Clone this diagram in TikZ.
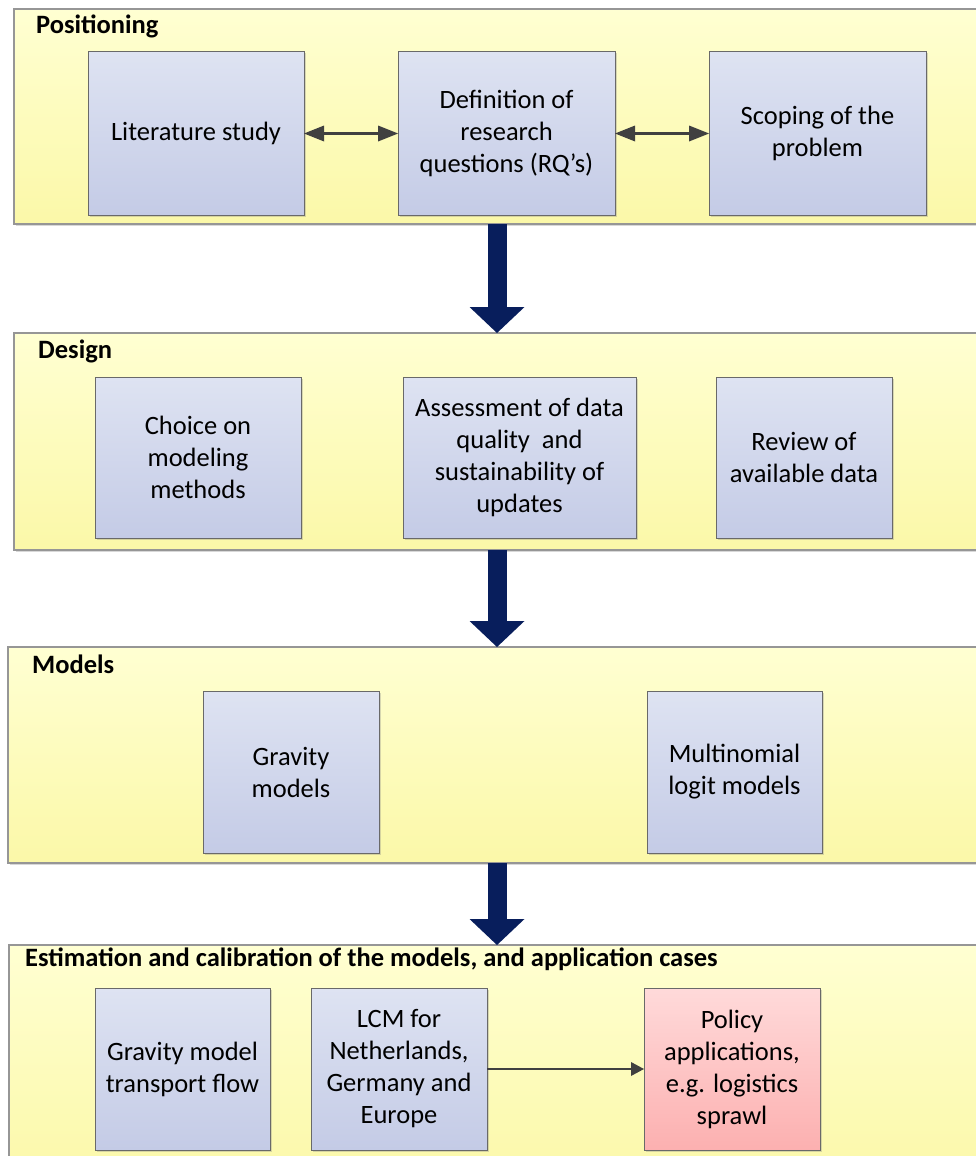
\documentclass[tikz,border=0pt]{standalone}
\usepackage{fontspec}
\setmainfont{Carlito}
\usetikzlibrary{arrows.meta,shadows}
\definecolor{panT}{RGB}{255,255,210}
\definecolor{panB}{RGB}{251,248,168}
\definecolor{boxT}{RGB}{222,227,242}
\definecolor{boxB}{RGB}{196,203,230}
\definecolor{polT}{RGB}{255,218,218}
\definecolor{polB}{RGB}{252,176,176}
\definecolor{navy}{RGB}{8,30,92}
\definecolor{dgray}{RGB}{64,64,64}
\definecolor{pborder}{RGB}{150,150,150}
\definecolor{bborder}{RGB}{105,105,105}
\tikzset{
  panel/.style={draw=pborder, line width=1.5pt, top color=panT, bottom color=panB,
    anchor=north west, inner sep=0pt, outer sep=0pt,
    drop shadow={shadow xshift=1.5pt, shadow yshift=-2pt, opacity=0.3}},
  stepbox/.style={draw=bborder, line width=1pt, top color=boxT, bottom color=boxB,
    anchor=north west, inner sep=0pt, outer sep=0pt, align=center, text=black,
    font=\fontsize{26.5}{32}\selectfont,
    drop shadow={shadow xshift=1.5pt, shadow yshift=-1.5pt, opacity=0.3}},
  polbox/.style={stepbox, top color=polT, bottom color=polB},
  ttl/.style={anchor=west, inner sep=0pt, text=black, font=\bfseries\fontsize{26.5}{30}\selectfont},
  bigarrow/.style={draw=navy, line width=19pt,
    -{Triangle[width=55pt, length=26pt, line width=0pt]}},
  duo/.style={draw=dgray, line width=2.5pt,
    {Triangle[width=16pt, length=20pt, line width=0pt]}-{Triangle[width=16pt, length=20pt, line width=0pt]}},
  uni/.style={draw=dgray, line width=2.5pt,
    -{Triangle[width=14pt, length=13pt, line width=0pt]}},
}
\begin{document}
\begin{tikzpicture}[x=1pt, y=-1pt]
\useasboundingbox (0,0) rectangle (975,1156);
\fill[white] (0,0) rectangle (975,1156);
% panels
\node[panel, minimum width=990pt, minimum height=215pt] (P1) at (14,9) {};
\node[panel, minimum width=990pt, minimum height=217pt] (P2) at (14,333) {};
\node[panel, minimum width=990pt, minimum height=216pt] (P3) at (8,647) {};
\node[panel, minimum width=990pt, minimum height=240pt] (P4) at (9,945) {};
% titles
\node[ttl] (T1) at (36,26) {Positioning};
\node[ttl] (T2) at (38,351) {Design};
\node[ttl] (T3) at (32,664) {Models};
\node[ttl] (T4) at (25,959) {Estimation and calibration of the models, and application cases};
% boxes panel 1
\node[stepbox, minimum width=216pt, minimum height=163pt] (lit) at (88,52) {Literature study};
\node[stepbox, minimum width=217pt, minimum height=163pt] (def) at (398,52) {Definition of\\research\\questions (RQ’s)};
\node[stepbox, minimum width=217pt, minimum height=163pt] (scope) at (709,52) {Scoping of the\\problem};
% boxes panel 2
\node[stepbox, minimum width=206pt, minimum height=161pt] (choice) at (95,377) {Choice on\\modeling\\methods};
\node[stepbox, minimum width=233pt, minimum height=161pt] (assess) at (403,377) {Assessment of data\\quality\ \ and\\sustainability of\\updates};
\node[stepbox, minimum width=176pt, minimum height=161pt] (review) at (716,377) {Review of\\available data};
% boxes panel 3
\node[stepbox, minimum width=176pt, minimum height=162pt] (grav) at (203,691) {Gravity\\models};
\node[stepbox, minimum width=175pt, minimum height=162pt] (multi) at (647,691) {Multinomial\\logit models};
% boxes panel 4
\node[stepbox, minimum width=175pt, minimum height=162pt] (gtf) at (95,988) {Gravity model\\transport flow};
\node[stepbox, minimum width=176pt, minimum height=162pt] (lcm) at (311,988) {LCM for\\Netherlands,\\Germany and\\Europe};
\node[polbox, minimum width=176pt, minimum height=162pt] (pol) at (644,988) {Policy\\applications,\\e.g. logistics\\sprawl};
% connectors
\coordinate (ax) at (497,0);
\draw[duo] (lit.east) -- (def.west);
\draw[duo] (def.east) -- (scope.west);
\draw[uni] (lcm.east) -- (pol.west);
\draw[bigarrow] (P1.south -| ax) -- (P2.north -| ax);
\draw[bigarrow] (P2.south -| ax) -- (P3.north -| ax);
\draw[bigarrow] (P3.south -| ax) -- (P4.north -| ax);
\end{tikzpicture}
\end{document}
